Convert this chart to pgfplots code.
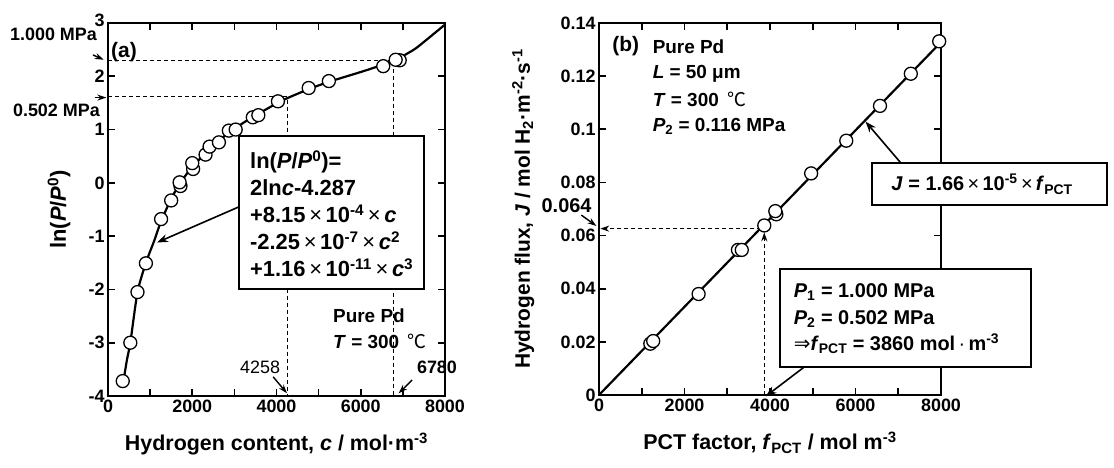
\documentclass[border=0pt]{standalone}
\usepackage{fontspec}
\setmainfont{Liberation Sans}
\newfontfamily\cjk{Noto Sans CJK SC}
\newfontfamily\dejavu{DejaVu Sans}
\usepackage{pgfplots}
\pgfplotsset{compat=1.18}
\usetikzlibrary{arrows.meta}

\pgfplotsset{
  myax/.style={
    scale only axis,
    anchor=south west,
    axis line style={line width=2.5bp},
    every tick/.style={line width=1.6bp, black},
    major tick length=7bp,
    minor tick length=7bp,
    tick align=inside,
    xticklabel pos=lower,
    yticklabel pos=left,
    /pgf/number format/assume math mode=true,
    ticklabel style={font=\bfseries\fontsize{18}{20}\selectfont},
    xlabel style={font=\bfseries\fontsize{21.5}{24}\selectfont, inner sep=0pt,
      at={(axis description cs:0.5,0)}, anchor=base, yshift=-55bp},
    ylabel style={inner sep=0pt, anchor=base},
    xtick={0,2000,4000,6000,8000},
    xticklabels={0,2000,4000,6000,8000},
    minor x tick num=1,
    xmin=0, xmax=8000,
    clip=false,
  },
  dat/.style={only marks, mark=*, mark size=6.5bp,
    mark options={fill=white, draw=black, line width=1.3bp}},
}

\begin{document}
\begin{tikzpicture}[x=1bp,y=1bp]
\useasboundingbox (0,0) rectangle (1114,468);

% ---------------- (a) ----------------
\begin{axis}[myax,
  at={(108bp,72bp)}, width=337bp, height=373bp,
  ymin=-4, ymax=3,
  ytick={-4,-3,-2,-1,0,1,2,3},
  yticklabels={-4,-3,-2,-1,0,1,2,\raisebox{5bp}{3}},
  xlabel={Hydrogen content, \textit{c} / mol·m\textsuperscript{-3}},
  ylabel={ln(\textit{P}/\textit{P}\textsuperscript{0})},
  ylabel style={at={(axis description cs:-0.125,0.5)}, font=\bfseries\fontsize{22}{24}\selectfont},
]
% dashed guide lines
\draw[line width=1.1bp, dash pattern=on 4bp off 3bp] (axis cs:0,2.303) -- (axis cs:6780,2.303) -- (axis cs:6780,-4);
\draw[line width=1.1bp, dash pattern=on 4bp off 3bp] (axis cs:0,1.613) -- (axis cs:4258,1.613) -- (axis cs:4258,-4);

% fitted curve
\addplot[line width=2.2bp, smooth, tension=0.4] coordinates {
(340,-3.85) (450,-3.32) (530,-3.0) (700,-2.05) (900,-1.5) (1100,-1.08)
(1260,-0.72) (1500,-0.30) (1700,-0.02) (2000,0.30) (2400,0.62) (2800,0.90)
(3200,1.12) (3600,1.31) (4000,1.49) (4258,1.59) (4800,1.77) (5300,1.91)
(6000,2.08) (6500,2.21) (6780,2.30) (7000,2.38) (7300,2.52) (7600,2.71) (8000,2.97)};

% data
\addplot[dat] coordinates {
(350,-3.72) (530,-3.0) (700,-2.05) (900,-1.51) (1260,-0.68) (1500,-0.33)
(1720,-0.06) (1700,0.01) (2020,0.26) (2000,0.37) (2316,0.53) (2411,0.68)
(2633,0.76) (2869,0.98) (3031,1.0) (3437,1.23) (3569,1.27) (4034,1.53)
(4764,1.78) (5243,1.91) (6534,2.19) (6925,2.30) (6829,2.31)};

% equation box
\draw[line width=2bp, fill=white] (axis cs:3110,0.87) rectangle (axis cs:7500,-2.0);
\node[anchor=west, align=left, inner sep=0pt, font=\bfseries\fontsize{22}{27}\selectfont]
  at (axis cs:3370,-0.58) {ln(\textit{P}/\textit{P}\textsuperscript{0})=\\
  2ln\textit{c}-4.287\\
  +8.15{\mdseries\,×\,}10\textsuperscript{-4}{\mdseries\,×\,}\textit{c}\\
  -2.25{\mdseries\,×\,}10\textsuperscript{-7}{\mdseries\,×\,}\textit{c}\textsuperscript{2}\\
  +1.16{\mdseries\,×\,}10\textsuperscript{-11}{\mdseries\,×\,}\textit{c}\textsuperscript{3}};
\draw[line width=1.6bp, -{Stealth[length=11bp,width=8bp]}] (axis cs:3110,-0.45) -- (axis cs:1163,-1.12);

% labels inside
\node[font=\bfseries\fontsize{21}{24}\selectfont] at (axis cs:380,2.46) {(a)};
\node[anchor=west, align=left, inner sep=0pt, font=\bfseries\fontsize{19}{26}\selectfont]
  at (axis cs:5341,-2.735) {Pure Pd\\\textit{T} = 300 {\mdseries\cjk\,℃}};
\node[font=\fontsize{18}{20}\selectfont] at (axis cs:3610,-3.47) {4258};
\draw[line width=1.4bp, -{Stealth[length=9bp,width=6bp]}] (axis cs:3920,-3.64) -- (axis cs:4250,-3.95);
\node[font=\bfseries\fontsize{18}{20}\selectfont] at (axis cs:7810,-3.47) {6780};
\draw[line width=1.4bp, -{Stealth[length=9bp,width=6bp]}] (axis cs:7220,-3.70) -- (axis cs:6900,-3.95);

% outside pressure labels
\node[anchor=east, inner sep=0pt, font=\bfseries\fontsize{18}{20}\selectfont] at (axis cs:-260,2.79) {1.000 MPa};
\draw[line width=1.4bp, -{Stealth[length=9bp,width=6bp]}] (axis cs:-356,2.40) -- (axis cs:-100,2.31);
\node[anchor=east, inner sep=0pt, font=\bfseries\fontsize{18}{20}\selectfont] at (axis cs:-190,1.37) {0.502 MPa};
\draw[line width=1.4bp, -{Stealth[length=9bp,width=6bp]}] (axis cs:-320,1.60) -- (axis cs:-40,1.60);
\end{axis}

% ---------------- (b) ----------------
\begin{axis}[myax,
  at={(599bp,73bp)}, width=342bp, height=372bp,
  ymin=0, ymax=0.14,
  ytick={0,0.02,0.04,0.06,0.08,0.1,0.12,0.14},
  yticklabels={0,0.02,0.04,0.06,0.08,0.1,0.12,0.14},
  xlabel={PCT factor, \textit{f}\textsubscript{PCT} / mol m\textsuperscript{-3}},
  ylabel={Hydrogen flux, \textit{J} / mol H\textsubscript{2}·m\textsuperscript{-2}·s\textsuperscript{-1}},
  ylabel style={at={(axis description cs:-0.202,0.5)}, font=\bfseries\fontsize{21}{24}\selectfont},
]
\addplot[line width=2.2bp] coordinates {(0,0) (8000,0.1328)};
\addplot[dat] coordinates {
(1200,0.0193) (1268,0.0203) (2330,0.0380) (3250,0.0546) (3340,0.0546)
(3866,0.0638) (4148,0.0680) (4124,0.0692) (4962,0.0834) (5784,0.0957)
(6573,0.1088) (7294,0.1209) (7958,0.1331)};

\draw[line width=1.1bp, dash pattern=on 4bp off 3bp, -{Stealth[length=9bp,width=6bp]}] (axis cs:3800,0.0626) -- (axis cs:30,0.0626);
\draw[line width=1.1bp, dash pattern=on 4bp off 3bp, -{Stealth[length=9bp,width=6bp]}] (axis cs:3866,0) -- (axis cs:3866,0.0612);

\node[anchor=east, inner sep=0pt, font=\bfseries\fontsize{20}{22}\selectfont] at (axis cs:-171,0.0714) {0.064};
\draw[line width=1.4bp, -{Stealth[length=9bp,width=6bp]}] (axis cs:-413,0.0677) -- (axis cs:-60,0.0636);

\node[font=\bfseries\fontsize{21}{24}\selectfont] at (axis cs:627,0.1312) {(b)};
\node[anchor=west, inner sep=0pt, font=\bfseries\fontsize{19}{22}\selectfont] at (axis cs:1253,0.1312) {Pure Pd};
\node[anchor=west, inner sep=0pt, font=\bfseries\fontsize{19}{22}\selectfont] at (axis cs:1253,0.1209) {\textit{L} = 50 μm};
\node[anchor=west, inner sep=0pt, font=\bfseries\fontsize{19}{22}\selectfont] at (axis cs:1253,0.1111) {\textit{T} = 300 {\mdseries\cjk\,℃}};
\node[anchor=west, inner sep=0pt, font=\bfseries\fontsize{19}{22}\selectfont] at (axis cs:1253,0.1010) {\textit{P}\textsubscript{2} = 0.116 MPa};

% box J
\draw[line width=2bp, fill=white] (axis cs:6394,0.0874) rectangle (axis cs:11880,0.0714);
\node[font=\bfseries\fontsize{20}{24}\selectfont] at (axis cs:8960,0.0794)
  {\textit{J} = 1.66{\mdseries\,×\,}10\textsuperscript{-5}{\mdseries\,×\,}\textit{f}\textsubscript{PCT}};
\draw[line width=1.6bp, -{Stealth[length=11bp,width=8bp]}] (axis cs:7056,0.0874) -- (axis cs:6234,0.1029);

% box P1 P2
\draw[line width=2bp, fill=white] (axis cs:4225,0.0475) rectangle (axis cs:10094,0.0104);
\node[anchor=west, inner sep=0pt, font=\bfseries\fontsize{20}{24}\selectfont] at (axis cs:4554,0.0387) {\textit{P}\textsubscript{1} = 1.000 MPa};
\node[anchor=west, inner sep=0pt, font=\bfseries\fontsize{20}{24}\selectfont] at (axis cs:4554,0.0287) {\textit{P}\textsubscript{2} = 0.502 MPa};
\node[anchor=west, inner sep=0pt, font=\bfseries\fontsize{20}{24}\selectfont] at (axis cs:4554,0.0193) {{\dejavu\mdseries ⇒}\textit{f}\textsubscript{PCT} = 3860 mol{\mdseries\,·\,}m\textsuperscript{-3}};
\draw[line width=1.6bp, -{Stealth[length=11bp,width=8bp]}] (axis cs:4789,0.0104) -- (axis cs:3900,-0.0005);
\end{axis}
\end{tikzpicture}
\end{document}
